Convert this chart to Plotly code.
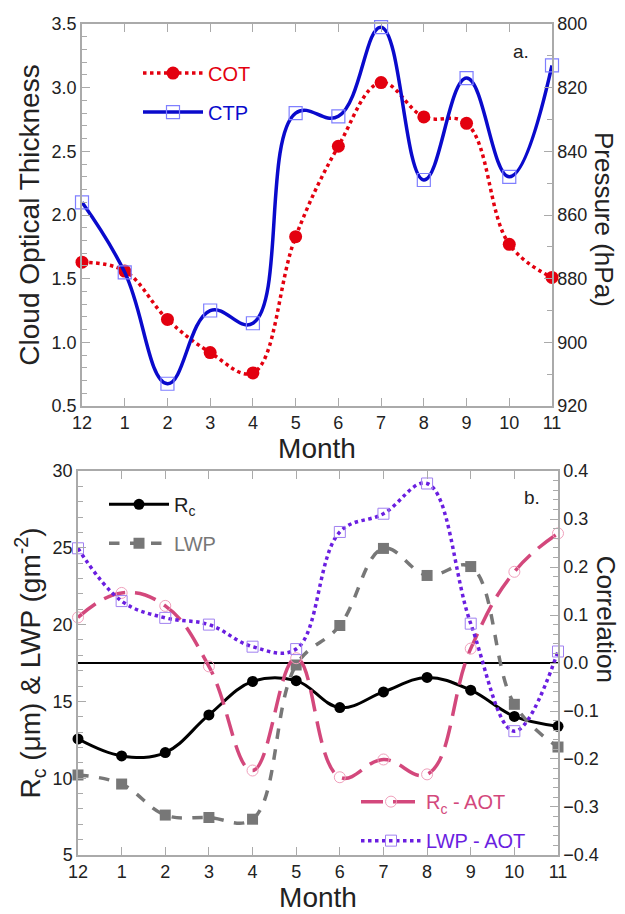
import plotly.graph_objects as go

months = ["12", "1", "2", "3", "4", "5", "6", "7", "8", "9", "10", "11"]
xpos = list(range(len(months)))

# Panel a
cot = [1.63, 1.56, 1.18, 0.92, 0.76, 1.83, 2.54, 3.04, 2.77, 2.72, 1.77, 1.51]
ctp = [856, 878, 913, 890, 894, 828, 829, 801, 849, 817, 848, 813]

# Panel b
rc = [12.56, 11.45, 11.67, 14.12, 16.3, 16.35, 14.6, 15.62, 16.56, 15.73, 14.02, 13.38]
lwp = [10.21, 9.62, 7.6, 7.44, 7.33, 17.37, 19.94, 24.96, 23.2, 23.78, 14.81, 12.03]
rc_aot = [0.095, 0.146, 0.119, -0.007, -0.224, 0.01, -0.238, -0.201, -0.232, 0.03, 0.19, 0.27]
lwp_aot = [0.239, 0.129, 0.094, 0.080, 0.034, 0.029, 0.273, 0.311, 0.374, 0.082, -0.142, 0.024]

FONT = "Liberation Sans"
TXT = "#222222"
RED = "#e3000f"
BLUE = "#0a0acc"
LBLUE = "#7f7fff"
GRAY = "#777777"
PINK = "#d3487c"
PURPLE = "#6a1ee0"
AX = "#aaaaaa"

fig = go.Figure()

fig.add_trace(go.Scatter(x=xpos, y=cot, name="<span style='color:%s'>COT</span>" % RED,
                         mode="lines+markers", line=dict(color=RED, width=3.5, dash="dot", shape="spline", smoothing=1.1),
                         marker=dict(symbol="circle", size=13, color=RED),
                         xaxis="x", yaxis="y", legend="legend", legendgroup="a1", cliponaxis=False))
fig.add_trace(go.Scatter(x=xpos, y=ctp, name="<span style='color:%s'>CTP</span>" % BLUE,
                         mode="lines+markers", line=dict(color=BLUE, width=3.5, shape="spline", smoothing=1.2),
                         marker=dict(symbol="square-open", size=13, color=LBLUE, line=dict(width=1.2)),
                         xaxis="x", yaxis="y2", legend="legend", legendgroup="a2", cliponaxis=False))

fig.add_trace(go.Scatter(x=xpos, y=rc, name="R<sub>c</sub>",
                         mode="lines+markers", line=dict(color="black", width=3, shape="spline", smoothing=1.1),
                         marker=dict(symbol="circle", size=11, color="black"),
                         xaxis="x2", yaxis="y3", legend="legend2", legendgroup="b1", cliponaxis=False))
fig.add_trace(go.Scatter(x=xpos, y=lwp, name="<span style='color:%s'>LWP</span>" % GRAY,
                         mode="lines+markers", line=dict(color=GRAY, width=3.5, dash="dash", shape="spline", smoothing=1.1),
                         marker=dict(symbol="square", size=11, color=GRAY),
                         xaxis="x2", yaxis="y3", legend="legend2", legendgroup="b2", cliponaxis=False))
fig.add_trace(go.Scatter(x=xpos, y=rc_aot, name="<span style='color:%s'>R<sub>c</sub> - AOT</span>" % PINK,
                         mode="lines+markers", line=dict(color=PINK, width=3.5, dash="22px,10px", shape="spline", smoothing=1.2),
                         marker=dict(symbol="circle-open", size=11, color="#f0a0bc", line=dict(width=1)),
                         xaxis="x2", yaxis="y4", legend="legend3", legendgroup="c1", cliponaxis=False))
fig.add_trace(go.Scatter(x=xpos, y=lwp_aot, name="<span style='color:%s'>LWP - AOT</span>" % PURPLE,
                         mode="lines+markers", line=dict(color=PURPLE, width=3.5, dash="dot", shape="spline", smoothing=1.1),
                         marker=dict(symbol="square-open", size=11, color="#a080f0", line=dict(width=1)),
                         xaxis="x2", yaxis="y4", legend="legend3", legendgroup="c2", cliponaxis=False))

W, H = 625, 914
L, R, T, B = 78, 67, 24, 46
pw, ph = W - L - R, H - T - B

def px_x(p):
    return (p - L) / pw

def px_y(p):
    return (H - B - p) / ph

tickfont = dict(family=FONT, size=18, color=TXT)
xcommon = dict(range=[0, 11], tickvals=xpos, ticktext=months, ticks="inside", ticklen=8,
               tickcolor=AX, showline=True, linecolor=AX, linewidth=1.5, mirror="ticks",
               showgrid=False, zeroline=False, tickfont=tickfont)
ycommon = dict(ticks="inside", ticklen=8, tickcolor=AX, showline=True, linecolor=AX, linewidth=1.5,
               showgrid=False, zeroline=False, tickfont=tickfont)

dom_top = [px_y(412), 1.0]
dom_bot = [0.0, px_y(478)]

legfont = dict(family=FONT, size=20)

fig.update_layout(
    width=W, height=H, margin=dict(l=L, r=R, t=T, b=B),
    paper_bgcolor="white", plot_bgcolor="white",
    font=dict(family=FONT, color=TXT),
    xaxis=dict(domain=[px_x(82), px_x(552)], anchor="y",
               title=dict(text="Month", font=dict(size=28, color=TXT), standoff=0), **xcommon),
    yaxis=dict(domain=dom_top, anchor="x", range=[0.5, 3.5], dtick=0.5, tickformat=".1f",
               minor=dict(ticks="inside", dtick=0.1, ticklen=5, tickcolor=AX),
               title=dict(text="Cloud Optical Thickness", font=dict(size=28, color=TXT), standoff=4),
               **ycommon),
    yaxis2=dict(overlaying="y", side="right", anchor="x", range=[920, 800], dtick=20,
                minor=dict(ticks="inside", dtick=10, ticklen=5, tickcolor=AX), **ycommon),
    xaxis2=dict(domain=[0, 1], anchor="y3",
                title=dict(text="Month", font=dict(size=28, color=TXT), standoff=0), **xcommon),
    yaxis3=dict(domain=dom_bot, anchor="x2", range=[5, 30], dtick=5,
                minor=dict(ticks="inside", dtick=1, ticklen=5, tickcolor=AX),
                title=dict(text="R<sub>c</sub> (μm) & LWP (gm<sup>-2</sup>)", font=dict(size=28, color=TXT), standoff=4),
                **ycommon),
    yaxis4=dict(overlaying="y3", side="right", anchor="x2", range=[-0.4, 0.4], dtick=0.1, tickformat=".1f",
                minor=dict(ticks="inside", dtick=0.02, ticklen=5, tickcolor=AX), **ycommon),
    legend=dict(x=px_x(138), y=px_y(54), xanchor="left", yanchor="top", bgcolor="rgba(0,0,0,0)",
                font=legfont, tracegroupgap=10, itemwidth=60),
    legend2=dict(x=px_x(104), y=px_y(492), xanchor="left", yanchor="top", bgcolor="rgba(0,0,0,0)",
                 font=legfont, tracegroupgap=10, itemwidth=60),
    legend3=dict(x=px_x(356), y=px_y(794), xanchor="left", yanchor="top", bgcolor="rgba(0,0,0,0)",
                 font=legfont, tracegroupgap=10, itemwidth=60),
    showlegend=True,
)

fig.add_shape(type="line", xref="x2 domain", x0=0, x1=1, yref="y4", y0=0, y1=0,
              line=dict(color="black", width=2), layer="below")

fig.add_annotation(text="Pressure (hPa)", textangle=90, xref="paper", yref="paper",
                   x=px_x(604), y=px_y(222), xanchor="center", yanchor="middle",
                   showarrow=False, font=dict(size=26, color=TXT))
fig.add_annotation(text="Correlation", textangle=90, xref="paper", yref="paper",
                   x=px_x(606), y=px_y(628), xanchor="center", yanchor="middle",
                   showarrow=False, font=dict(size=26, color=TXT))
fig.add_annotation(text="a.", xref="paper", yref="paper", x=px_x(521), y=px_y(52),
                   xanchor="center", yanchor="middle",
                   showarrow=False, font=dict(size=19, color=TXT))
fig.add_annotation(text="b.", xref="paper", yref="paper", x=px_x(532), y=px_y(505),
                   xanchor="center", yanchor="middle",
                   showarrow=False, font=dict(size=19, color=TXT))

fig.write_html("out.html")
